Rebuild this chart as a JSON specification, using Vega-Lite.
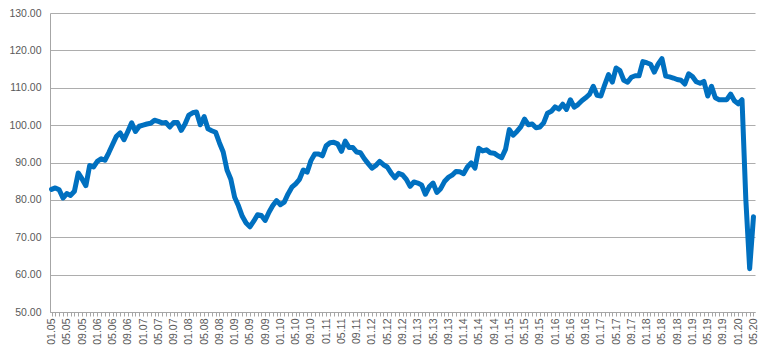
{
  "$schema": "https://vega.github.io/schema/vega-lite/v6.json",
  "width": 705,
  "height": 299,
  "autosize": "none",
  "padding": {"left": 50, "top": 13, "right": 13, "bottom": 41},
  "background": "white",
  "config": {"view": {"stroke": null}, "font": "Liberation Sans"},
  "data": {"values": [
    {"m":"01.05","v":82.8},{"m":"02.05","v":83.2},{"m":"03.05","v":82.7},{"m":"04.05","v":80.5},{"m":"05.05","v":81.7},{"m":"06.05","v":81.2},{"m":"07.05","v":82.3},{"m":"08.05","v":87.2},{"m":"09.05","v":85.6},{"m":"10.05","v":83.8},{"m":"11.05","v":89.2},{"m":"12.05","v":88.8},
    {"m":"01.06","v":90.3},{"m":"02.06","v":91.0},{"m":"03.06","v":90.6},{"m":"04.06","v":92.6},{"m":"05.06","v":94.8},{"m":"06.06","v":97.0},{"m":"07.06","v":97.9},{"m":"08.06","v":96.1},{"m":"09.06","v":98.3},{"m":"10.06","v":100.6},{"m":"11.06","v":98.3},{"m":"12.06","v":99.7},
    {"m":"01.07","v":100.0},{"m":"02.07","v":100.3},{"m":"03.07","v":100.5},{"m":"04.07","v":101.3},{"m":"05.07","v":101.0},{"m":"06.07","v":100.6},{"m":"07.07","v":100.7},{"m":"08.07","v":99.5},{"m":"09.07","v":100.7},{"m":"10.07","v":100.7},{"m":"11.07","v":98.6},{"m":"12.07","v":100.3},
    {"m":"01.08","v":102.7},{"m":"02.08","v":103.3},{"m":"03.08","v":103.5},{"m":"04.08","v":100.1},{"m":"05.08","v":102.3},{"m":"06.08","v":99.0},{"m":"07.08","v":98.5},{"m":"08.08","v":98.1},{"m":"09.08","v":95.3},{"m":"10.08","v":92.8},{"m":"11.08","v":88.0},{"m":"12.08","v":85.5},
    {"m":"01.09","v":80.7},{"m":"02.09","v":78.4},{"m":"03.09","v":75.6},{"m":"04.09","v":73.8},{"m":"05.09","v":72.8},{"m":"06.09","v":74.3},{"m":"07.09","v":76.0},{"m":"08.09","v":75.8},{"m":"09.09","v":74.5},{"m":"10.09","v":76.7},{"m":"11.09","v":78.5},{"m":"12.09","v":79.8},
    {"m":"01.10","v":78.7},{"m":"02.10","v":79.4},{"m":"03.10","v":81.6},{"m":"04.10","v":83.4},{"m":"05.10","v":84.3},{"m":"06.10","v":85.5},{"m":"07.10","v":88.0},{"m":"08.10","v":87.4},{"m":"09.10","v":90.5},{"m":"10.10","v":92.3},{"m":"11.10","v":92.3},{"m":"12.10","v":91.8},
    {"m":"01.11","v":94.5},{"m":"02.11","v":95.3},{"m":"03.11","v":95.4},{"m":"04.11","v":95.0},{"m":"05.11","v":93.0},{"m":"06.11","v":95.7},{"m":"07.11","v":94.0},{"m":"08.11","v":94.0},{"m":"09.11","v":92.8},{"m":"10.11","v":92.6},{"m":"11.11","v":91.0},{"m":"12.11","v":89.7},
    {"m":"01.12","v":88.5},{"m":"02.12","v":89.2},{"m":"03.12","v":90.3},{"m":"04.12","v":89.4},{"m":"05.12","v":88.8},{"m":"06.12","v":87.2},{"m":"07.12","v":85.9},{"m":"08.12","v":87.1},{"m":"09.12","v":86.7},{"m":"10.12","v":85.5},{"m":"11.12","v":83.6},{"m":"12.12","v":84.8},
    {"m":"01.13","v":84.5},{"m":"02.13","v":84.0},{"m":"03.13","v":81.5},{"m":"04.13","v":83.5},{"m":"05.13","v":84.5},{"m":"06.13","v":82.0},{"m":"07.13","v":83.0},{"m":"08.13","v":84.9},{"m":"09.13","v":86.0},{"m":"10.13","v":86.6},{"m":"11.13","v":87.6},{"m":"12.13","v":87.5},
    {"m":"01.14","v":87.0},{"m":"02.14","v":88.8},{"m":"03.14","v":89.9},{"m":"04.14","v":88.5},{"m":"05.14","v":93.8},{"m":"06.14","v":93.1},{"m":"07.14","v":93.4},{"m":"08.14","v":92.6},{"m":"09.14","v":92.5},{"m":"10.14","v":91.8},{"m":"11.14","v":91.3},{"m":"12.14","v":93.5},
    {"m":"01.15","v":98.8},{"m":"02.15","v":97.3},{"m":"03.15","v":98.3},{"m":"04.15","v":99.5},{"m":"05.15","v":101.6},{"m":"06.15","v":100.1},{"m":"07.15","v":100.3},{"m":"08.15","v":99.3},{"m":"09.15","v":99.5},{"m":"10.15","v":100.6},{"m":"11.15","v":103.2},{"m":"12.15","v":103.7},
    {"m":"01.16","v":104.9},{"m":"02.16","v":104.3},{"m":"03.16","v":105.6},{"m":"04.16","v":104.2},{"m":"05.16","v":106.8},{"m":"06.16","v":104.8},{"m":"07.16","v":105.5},{"m":"08.16","v":106.5},{"m":"09.16","v":107.3},{"m":"10.16","v":108.2},{"m":"11.16","v":110.4},{"m":"12.16","v":108.0},
    {"m":"01.17","v":107.8},{"m":"02.17","v":110.8},{"m":"03.17","v":113.5},{"m":"04.17","v":111.5},{"m":"05.17","v":115.3},{"m":"06.17","v":114.6},{"m":"07.17","v":112.0},{"m":"08.17","v":111.5},{"m":"09.17","v":112.8},{"m":"10.17","v":113.2},{"m":"11.17","v":113.2},{"m":"12.17","v":117.0},
    {"m":"01.18","v":116.7},{"m":"02.18","v":116.3},{"m":"03.18","v":114.2},{"m":"04.18","v":116.3},{"m":"05.18","v":117.8},{"m":"06.18","v":113.1},{"m":"07.18","v":112.9},{"m":"08.18","v":112.6},{"m":"09.18","v":112.2},{"m":"10.18","v":112.0},{"m":"11.18","v":111.0},{"m":"12.18","v":113.7},
    {"m":"01.19","v":113.0},{"m":"02.19","v":111.6},{"m":"03.19","v":111.2},{"m":"04.19","v":111.7},{"m":"05.19","v":107.8},{"m":"06.19","v":110.4},{"m":"07.19","v":107.3},{"m":"08.19","v":106.8},{"m":"09.19","v":106.8},{"m":"10.19","v":106.8},{"m":"11.19","v":108.3},{"m":"12.19","v":106.5},
    {"m":"01.20","v":105.7},{"m":"02.20","v":106.8},{"m":"03.20","v":80.0},{"m":"04.20","v":61.6},{"m":"05.20","v":75.5}
  ]},
  "mark": {"type": "line", "color": "#0070C0", "strokeWidth": 5, "strokeJoin": "round", "strokeCap": "round"},
  "encoding": {
    "x": {
      "field": "m", "type": "ordinal", "sort": null,
      "scale": {"type": "point", "padding": 0.4},
      "axis": {
        "title": null,
        "labelAngle": -90, "labelAlign": "right", "labelBaseline": "middle",
        "labelExpr": "indexof(['01','05','09'], substring(datum.value,0,2)) >= 0 ? datum.value : ''",
        "labelOverlap": false, "labelFontSize": 10.5, "labelColor": "#595959", "labelPadding": 2,
        "ticks": true, "tickSize": 4, "tickColor": "#A6A6A6", "domainColor": "#A6A6A6", "grid": false
      }
    },
    "y": {
      "field": "v", "type": "quantitative",
      "scale": {"domain": [50, 130], "nice": false, "zero": false},
      "axis": {
        "title": null, "values": [50, 60, 70, 80, 90, 100, 110, 120, 130], "format": ".2f",
        "labelFontSize": 10.5, "labelColor": "#595959", "labelPadding": 9, "ticks": false,
        "domainColor": "#A6A6A6", "gridColor": "#ADADAD", "gridWidth": 1.2
      }
    }
  }
}
